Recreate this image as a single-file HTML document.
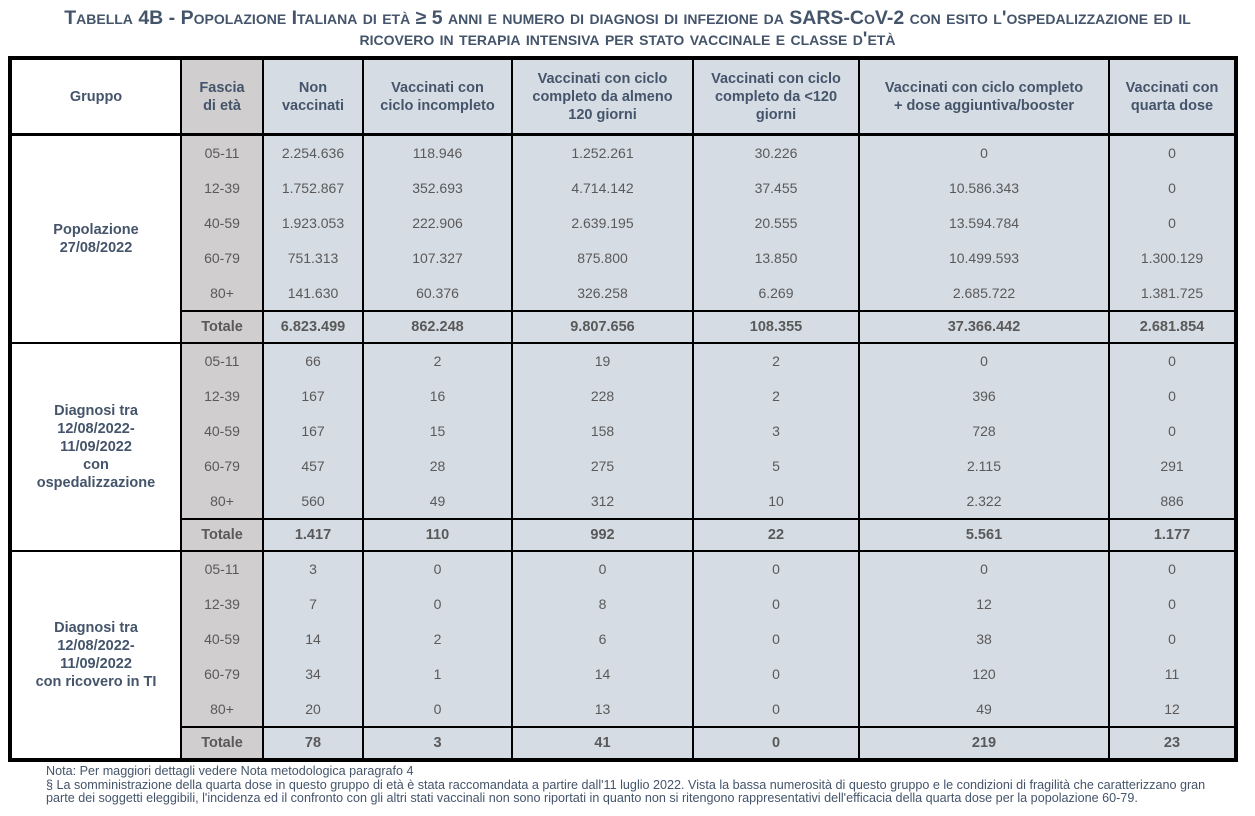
<!DOCTYPE html>
<html><head><meta charset="utf-8">
<style>
body{margin:0;width:1255px;height:816px;background:#fff;font-family:"Liberation Sans",sans-serif;color:#595959;position:relative;overflow:hidden}
.title{position:absolute;left:0;width:1255px;top:8px;text-align:center;color:#44546a;font-weight:bold;font-size:19.5px;line-height:21px;font-variant:small-caps;letter-spacing:0}
table{position:absolute;left:8px;top:56px;border-collapse:collapse;border:4px solid #000;table-layout:fixed;width:1226px}
td{border-left:2px solid #000;border-right:2px solid #000;text-align:center;font-size:14px;padding:0;background:#d6dce4;height:34.8px}
td.g{background:#fff;font-weight:bold;color:#44546a;font-size:14.5px;border-bottom:2px solid #000;line-height:18px}
td.a{background:#d0cece}
tr.h td{height:73px;font-weight:bold;color:#44546a;font-size:14.5px;line-height:18px;border-bottom:3px solid #000}
tr.h td.first{background:#fff}
tr.t td{font-weight:bold;font-size:14.5px;border-top:2px solid #000;border-bottom:2px solid #000;height:30px}
.note{position:absolute;left:46px;top:765px;font-size:12.6px;line-height:13.5px;color:#44546a;white-space:nowrap}
</style></head><body>
<div class="title">Tabella 4B - Popolazione Italiana di età ≥ 5 anni e numero di diagnosi di infezione da SARS-CoV-2 con esito l'ospedalizzazione ed il<br>ricovero in terapia intensiva per stato vaccinale e classe d'età</div>
<table>
<colgroup><col style="width:171px"><col style="width:82px"><col style="width:100px"><col style="width:149px"><col style="width:181px"><col style="width:166px"><col style="width:250px"><col style="width:127px"></colgroup>
<tr class="h"><td class="first">Gruppo</td><td class="a">Fascia<br>di età</td><td>Non<br>vaccinati</td><td>Vaccinati con<br>ciclo incompleto</td><td>Vaccinati con ciclo<br>completo da almeno<br>120 giorni</td><td>Vaccinati con ciclo<br>completo da &lt;120<br>giorni</td><td>Vaccinati con ciclo completo<br>+ dose aggiuntiva/booster</td><td>Vaccinati con<br>quarta dose</td></tr>
<tr><td class="g" rowspan="6">Popolazione<br>27/08/2022</td><td class="a">05-11</td><td>2.254.636</td><td>118.946</td><td>1.252.261</td><td>30.226</td><td>0</td><td>0</td></tr>
<tr><td class="a">12-39</td><td>1.752.867</td><td>352.693</td><td>4.714.142</td><td>37.455</td><td>10.586.343</td><td>0</td></tr>
<tr><td class="a">40-59</td><td>1.923.053</td><td>222.906</td><td>2.639.195</td><td>20.555</td><td>13.594.784</td><td>0</td></tr>
<tr><td class="a">60-79</td><td>751.313</td><td>107.327</td><td>875.800</td><td>13.850</td><td>10.499.593</td><td>1.300.129</td></tr>
<tr><td class="a">80+</td><td>141.630</td><td>60.376</td><td>326.258</td><td>6.269</td><td>2.685.722</td><td>1.381.725</td></tr>
<tr class="t"><td class="a">Totale</td><td>6.823.499</td><td>862.248</td><td>9.807.656</td><td>108.355</td><td>37.366.442</td><td>2.681.854</td></tr>
<tr><td class="g" rowspan="6">Diagnosi tra<br>12/08/2022-<br>11/09/2022<br>con<br>ospedalizzazione</td><td class="a">05-11</td><td>66</td><td>2</td><td>19</td><td>2</td><td>0</td><td>0</td></tr>
<tr><td class="a">12-39</td><td>167</td><td>16</td><td>228</td><td>2</td><td>396</td><td>0</td></tr>
<tr><td class="a">40-59</td><td>167</td><td>15</td><td>158</td><td>3</td><td>728</td><td>0</td></tr>
<tr><td class="a">60-79</td><td>457</td><td>28</td><td>275</td><td>5</td><td>2.115</td><td>291</td></tr>
<tr><td class="a">80+</td><td>560</td><td>49</td><td>312</td><td>10</td><td>2.322</td><td>886</td></tr>
<tr class="t"><td class="a">Totale</td><td>1.417</td><td>110</td><td>992</td><td>22</td><td>5.561</td><td>1.177</td></tr>
<tr><td class="g" rowspan="6">Diagnosi tra<br>12/08/2022-<br>11/09/2022<br>con ricovero in TI</td><td class="a">05-11</td><td>3</td><td>0</td><td>0</td><td>0</td><td>0</td><td>0</td></tr>
<tr><td class="a">12-39</td><td>7</td><td>0</td><td>8</td><td>0</td><td>12</td><td>0</td></tr>
<tr><td class="a">40-59</td><td>14</td><td>2</td><td>6</td><td>0</td><td>38</td><td>0</td></tr>
<tr><td class="a">60-79</td><td>34</td><td>1</td><td>14</td><td>0</td><td>120</td><td>11</td></tr>
<tr><td class="a">80+</td><td>20</td><td>0</td><td>13</td><td>0</td><td>49</td><td>12</td></tr>
<tr class="t"><td class="a">Totale</td><td>78</td><td>3</td><td>41</td><td>0</td><td>219</td><td>23</td></tr>
</table>
<div class="note">Nota: Per maggiori dettagli vedere Nota metodologica paragrafo 4<br>§ La somministrazione della quarta dose in questo gruppo di età è stata raccomandata a partire dall'11 luglio 2022. Vista la bassa numerosità di questo gruppo e le condizioni di fragilità che caratterizzano gran<br>parte dei soggetti eleggibili, l'incidenza ed il confronto con gli altri stati vaccinali non sono riportati in quanto non si ritengono rappresentativi dell'efficacia della quarta dose per la popolazione 60-79.</div>
</body></html>
